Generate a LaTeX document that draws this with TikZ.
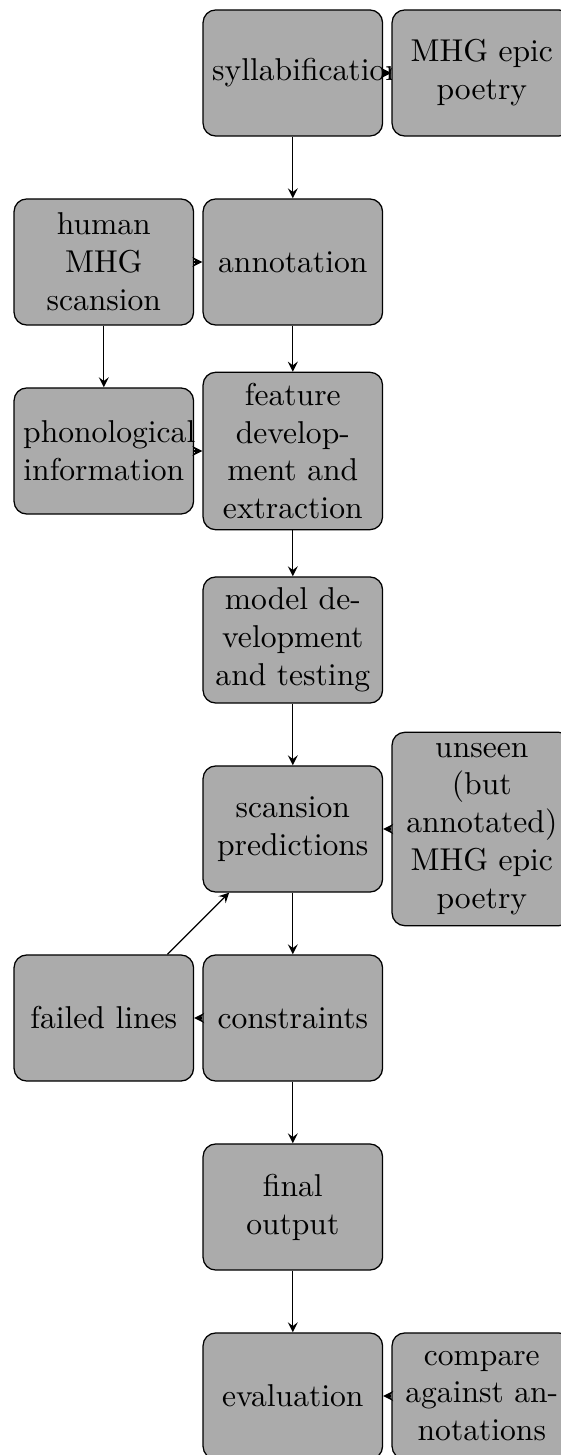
\documentclass[tikz,border=0pt]{standalone}
\usetikzlibrary{arrows}
\begin{document}
\begin{tikzpicture}[x=0.3165pt,y=-0.3165pt,
  box/.style={draw, fill=black!33, rounded corners, text width=51pt,
    align=center, minimum height=39.9pt, inner xsep=2.9pt, inner ysep=0.3333em},
  link/.style={-stealth}]
\useasboundingbox (0,0) rectangle (561,1455);
\clip (0,0) rectangle (561,1455);
% main pipeline (centre column) and side inputs/outputs
\node[box] (syl) at (292.8,73) {syllabification};
\node[box] (mhg) at (481.8,73) {MHG epic poetry};
\node[box] (human) at (103.8,262) {human MHG scansion};
\node[box] (annot) at (292.8,262) {annotation};
\node[box] (phon) at (103.8,451) {phonological information};
\node[box] (feat) at (292.8,451) {feature development and extraction};
\node[box] (model) at (292.8,640) {model development and testing};
\node[box] (scan) at (292.8,829) {scansion predictions};
\node[box] (unseen) at (481.8,829) {unseen (but annotated) MHG epic poetry};
\node[box] (failed) at (103.8,1018) {failed lines};
\node[box] (constr) at (292.8,1018) {constraints};
\node[box] (final) at (292.8,1207) {final output};
\node[box] (eval) at (292.8,1396) {evaluation};
\node[box] (compare) at (481.8,1396) {compare against annotations};
% connectors
\draw[link] (syl) -- (mhg);
\draw[link] (syl) -- (annot);
\draw[link] (human) -- (annot);
\draw[link] (human) -- (phon);
\draw[link] (annot) -- (feat);
\draw[link] (phon) -- (feat);
\draw[link] (feat) -- (model);
\draw[link] (model) -- (scan);
\draw[link] (unseen) -- (scan);
\draw[link] (scan) -- (constr);
\draw[link] (constr) -- (failed);
\draw[link] (failed) -- (scan);
\draw[link] (constr) -- (final);
\draw[link] (final) -- (eval);
\draw[link] (compare) -- (eval);
\end{tikzpicture}
\end{document}
